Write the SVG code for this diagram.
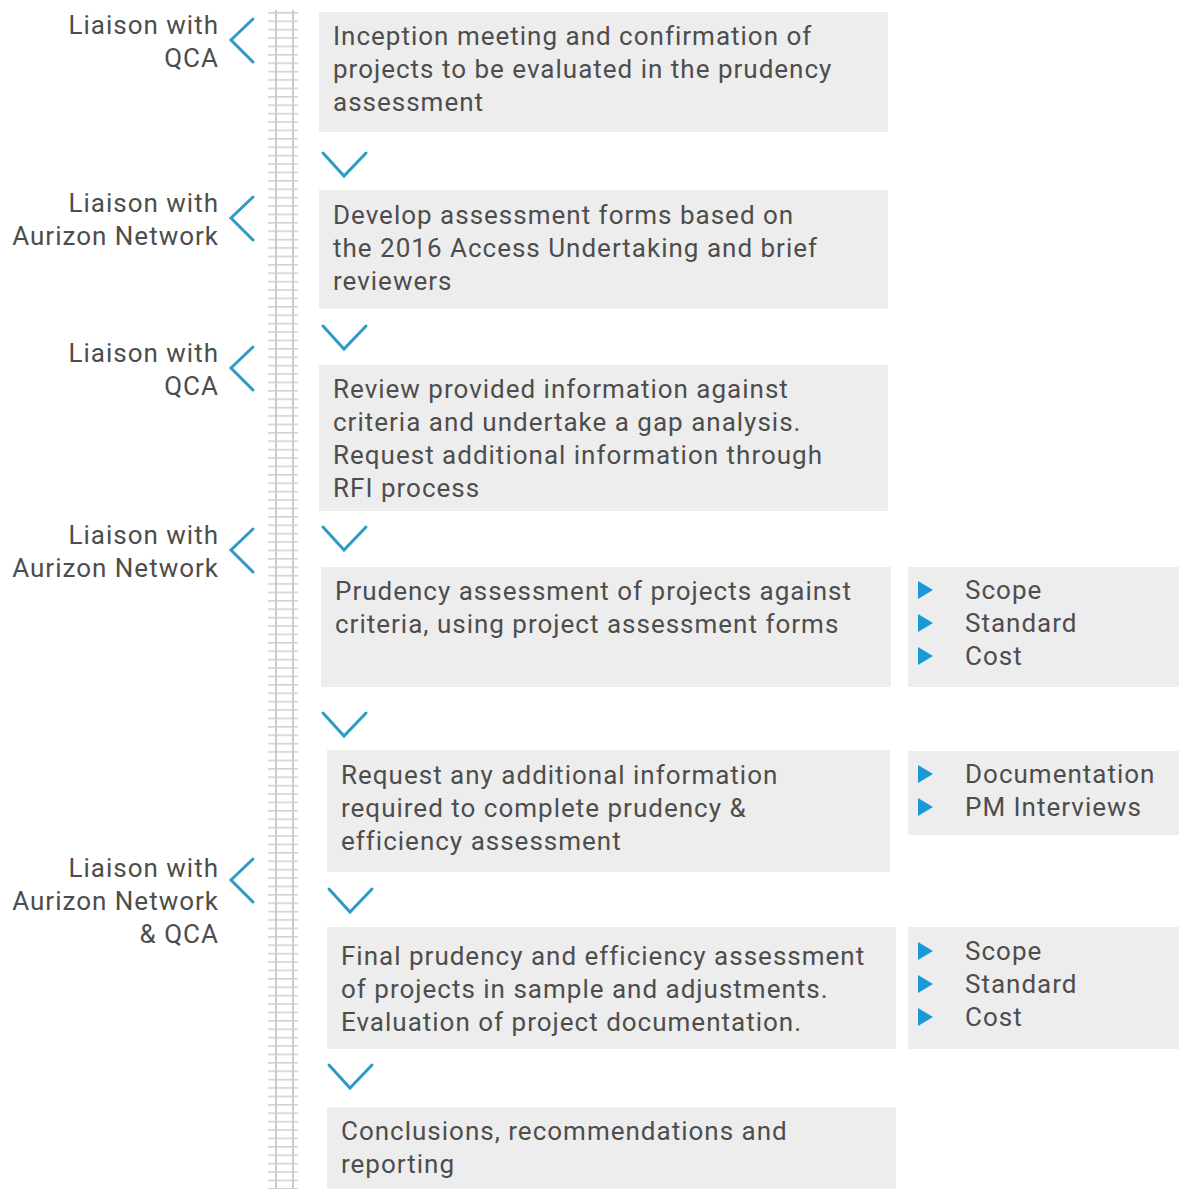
<svg xmlns="http://www.w3.org/2000/svg" width="1179" height="1189" viewBox="0 0 1179 1189">
<defs>
<style>
.box{fill:#ededed}
.t{font-family:Roboto,"Liberation Sans",sans-serif;font-size:26px;fill:#4d4d4d;letter-spacing:1px}
.lbl{font-family:Roboto,"Liberation Sans",sans-serif;font-size:26px;fill:#4d4d4d;text-anchor:end;letter-spacing:1px}
.chev{fill:none;stroke:#2d9bc6;stroke-width:3;stroke-linecap:round;stroke-linejoin:miter}
.bul{fill:#1a98d8}
.rail{stroke:#cbcbcb;stroke-width:2}
</style>
<pattern id="ties" x="0" y="12" width="30" height="8.4" patternUnits="userSpaceOnUse">
<rect x="0" y="0" width="30" height="1.6" fill="#d2d2d2"/>
</pattern>
</defs>
<rect width="1179" height="1189" fill="#ffffff"/>
<g id="track">
<rect x="268" y="12" width="30" height="1177" fill="url(#ties)"/>
<line class="rail" x1="276" y1="10" x2="276" y2="1189"/>
<line class="rail" x1="293" y1="10" x2="293" y2="1189"/>
</g>
<g id="node1">
<rect class="box" x="319" y="12" width="569" height="120"/>
<text class="t" x="333" y="45">Inception meeting and confirmation of</text>
<text class="t" x="333" y="78">projects to be evaluated in the prudency</text>
<text class="t" x="333" y="111">assessment</text>
</g>
<g id="node2">
<rect class="box" x="319" y="190" width="569" height="119"/>
<text class="t" x="333" y="224">Develop assessment forms based on</text>
<text class="t" x="333" y="257">the 2016 Access Undertaking and brief</text>
<text class="t" x="333" y="290">reviewers</text>
</g>
<g id="node3">
<rect class="box" x="319" y="365" width="569" height="146"/>
<text class="t" x="333" y="398">Review provided information against</text>
<text class="t" x="333" y="431">criteria and undertake a gap analysis.</text>
<text class="t" x="333" y="464">Request additional information through</text>
<text class="t" x="333" y="497">RFI process</text>
</g>
<g id="node4">
<rect class="box" x="321" y="567" width="570" height="120"/>
<text class="t" x="335" y="600">Prudency assessment of projects against</text>
<text class="t" x="335" y="633">criteria, using project assessment forms</text>
</g>
<g id="node4b">
<rect class="box" x="908" y="567" width="271" height="120"/>
<polygon class="bul" points="918,581 933,590 918,599"/>
<polygon class="bul" points="918,614 933,623 918,632"/>
<polygon class="bul" points="918,647 933,656 918,665"/>
<text class="t" x="965" y="599">Scope</text>
<text class="t" x="965" y="632">Standard</text>
<text class="t" x="965" y="665">Cost</text>
</g>
<g id="node5">
<rect class="box" x="327" y="750" width="563" height="122"/>
<text class="t" x="341" y="784">Request any additional information</text>
<text class="t" x="341" y="817">required to complete prudency &amp;</text>
<text class="t" x="341" y="850">efficiency assessment</text>
</g>
<g id="node5b">
<rect class="box" x="908" y="751" width="271" height="84"/>
<polygon class="bul" points="918,765 933,774 918,783"/>
<polygon class="bul" points="918,798 933,807 918,816"/>
<text class="t" x="965" y="783">Documentation</text>
<text class="t" x="965" y="816">PM Interviews</text>
</g>
<g id="node6">
<rect class="box" x="327" y="927" width="569" height="122"/>
<text class="t" x="341" y="965">Final prudency and efficiency assessment</text>
<text class="t" x="341" y="998">of projects in sample and adjustments.</text>
<text class="t" x="341" y="1031">Evaluation of project documentation.</text>
</g>
<g id="node6b">
<rect class="box" x="908" y="927" width="271" height="122"/>
<polygon class="bul" points="918,942 933,951 918,960"/>
<polygon class="bul" points="918,975 933,984 918,993"/>
<polygon class="bul" points="918,1008 933,1017 918,1026"/>
<text class="t" x="965" y="960">Scope</text>
<text class="t" x="965" y="993">Standard</text>
<text class="t" x="965" y="1026">Cost</text>
</g>
<g id="node7">
<rect class="box" x="327" y="1107" width="569" height="82"/>
<text class="t" x="341" y="1140">Conclusions, recommendations and</text>
<text class="t" x="341" y="1173">reporting</text>
</g>
<g id="labels">
<text class="lbl" x="219" y="34">Liaison with</text>
<text class="lbl" x="219" y="67">QCA</text>
<text class="lbl" x="219" y="212">Liaison with</text>
<text class="lbl" x="219" y="245">Aurizon Network</text>
<text class="lbl" x="219" y="362">Liaison with</text>
<text class="lbl" x="219" y="395">QCA</text>
<text class="lbl" x="219" y="544">Liaison with</text>
<text class="lbl" x="219" y="577">Aurizon Network</text>
<text class="lbl" x="219" y="877">Liaison with</text>
<text class="lbl" x="219" y="910">Aurizon Network</text>
<text class="lbl" x="219" y="943">&amp; QCA</text>
</g>
<g id="connectors">
<polyline class="chev" points="253,19 231,40 253,62"/>
<polyline class="chev" points="253,197 231,218 253,240"/>
<polyline class="chev" points="253,347 231,368 253,390"/>
<polyline class="chev" points="253,529 231,550 253,572"/>
<polyline class="chev" points="253,859 231,880 253,902"/>
<polyline class="chev" points="323,153 344,176 366,153"/>
<polyline class="chev" points="323,326 344,349 366,326"/>
<polyline class="chev" points="323,527 344,550 366,527"/>
<polyline class="chev" points="323,713 344,736 366,713"/>
<polyline class="chev" points="329,889 350,912 372,889"/>
<polyline class="chev" points="329,1065 350,1088 372,1065"/>
</g>
</svg>
